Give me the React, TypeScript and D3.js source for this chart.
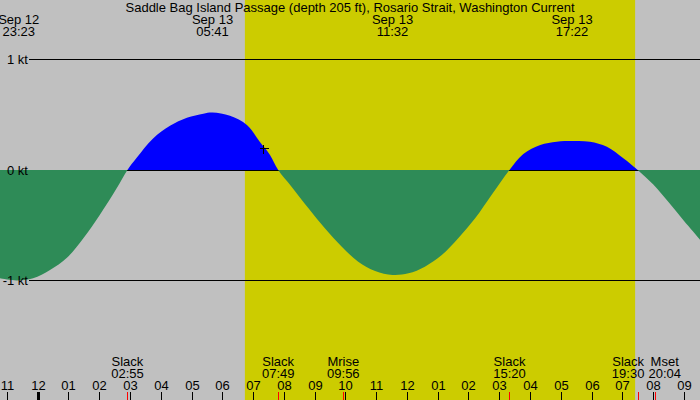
import React, { useEffect, useRef } from 'react';
import * as d3 from 'd3';

// Chart title
const TITLE = 'Saddle Bag Island Passage (depth 205 ft), Rosario Strait, Washington Current';

// Visible time window
const WINDOW_START = '2024-09-12T22:46:30';
const WINDOW_END = '2024-09-13T21:31:30';

// Daylight period (sunrise -> sunset)
const SUNRISE = '2024-09-13T06:44';
const SUNSET = '2024-09-13T19:25';

// Current speed (kt, + flood / - ebb)
const CURVE_TIMES = [
  '2024-09-12T22:46', '2024-09-12T23:19', '2024-09-12T23:51', '2024-09-13T00:24',
  '2024-09-13T00:57', '2024-09-13T01:29', '2024-09-13T02:01', '2024-09-13T02:34',
  '2024-09-13T02:55', '2024-09-13T03:13', '2024-09-13T03:45', '2024-09-13T04:18',
  '2024-09-13T04:51', '2024-09-13T05:23', '2024-09-13T05:41', '2024-09-13T06:15',
  '2024-09-13T06:48', '2024-09-13T07:13', '2024-09-13T07:33', '2024-09-13T07:49',
  '2024-09-13T08:15', '2024-09-13T08:48', '2024-09-13T09:20', '2024-09-13T09:53',
  '2024-09-13T10:25', '2024-09-13T10:58', '2024-09-13T11:32', '2024-09-13T12:03',
  '2024-09-13T12:35', '2024-09-13T13:08', '2024-09-13T13:40', '2024-09-13T14:13',
  '2024-09-13T14:45', '2024-09-13T15:20', '2024-09-13T15:47', '2024-09-13T16:20',
  '2024-09-13T16:52', '2024-09-13T17:22', '2024-09-13T17:57', '2024-09-13T18:30',
  '2024-09-13T19:02', '2024-09-13T19:30', '2024-09-13T20:00', '2024-09-13T20:30',
  '2024-09-13T21:00', '2024-09-13T21:32',
];
const CURVE_VALUES = [
  -0.98, -1.0, -0.98, -0.905,
  -0.794, -0.618, -0.407, -0.166,
  0, 0.11, 0.285, 0.40,
  0.473, 0.51, 0.52, 0.49,
  0.407, 0.256, 0.136, 0,
  -0.151, -0.347, -0.528, -0.694,
  -0.83, -0.914, -0.95, -0.935,
  -0.875, -0.77, -0.618, -0.437,
  -0.226, 0, 0.145, 0.226,
  0.256, 0.262, 0.256, 0.21,
  0.106, 0, -0.13, -0.29,
  -0.46, -0.633,
];

// Max flood / ebb labels along the top
const MAX_TIMES = ['2024-09-12T23:23', '2024-09-13T05:41', '2024-09-13T11:32', '2024-09-13T17:22'];

// Slack and moon events along the bottom
const EVENT_NAMES = ['Slack', 'Slack', 'Mrise', 'Slack', 'Slack', 'Mset'];
const EVENT_TIMES = [
  '2024-09-13T02:55', '2024-09-13T07:49', '2024-09-13T09:56',
  '2024-09-13T15:20', '2024-09-13T19:30', '2024-09-13T20:04',
];

// Y grid levels
const LEVELS = [1, 0, -1];

// "now" marker
const MARK_TIME = '2024-09-13T07:20';
const MARK_VALUE = 0.2;

const W = 700;
const H = 400;
const FONT = '"Liberation Sans", Arial, sans-serif';
const FS = 13;

export default function App() {
  const svgRef = useRef<SVGSVGElement>(null);

  useEffect(() => {
    if (!svgRef.current) return;
    const svg = d3.select(svgRef.current);
    svg.selectAll('*').remove();

    const x = d3.scaleTime()
      .domain([new Date(WINDOW_START), new Date(WINDOW_END)])
      .range([0, W]);

    const y = d3.scaleLinear()
      .domain([-1, 1])
      .range([280.5, 59.5]);

    const px = (v: number) => Math.floor(y(v)) + 0.5;

    // Background: night grey + daylight yellow
    svg.append('rect').attr('width', W).attr('height', H).attr('fill', '#c0c0c0');
    svg.append('rect')
      .attr('x', x(new Date(SUNRISE)))
      .attr('width', x(new Date(SUNSET)) - x(new Date(SUNRISE)))
      .attr('height', H)
      .attr('fill', '#cccc00');

    const pts = CURVE_TIMES.map((t, i) => ({ t: new Date(t), v: CURVE_VALUES[i] }));
    const zeroY = px(0);

    // Zero line first, ebb fill covers it
    svg.append('line')
      .attr('x1', 29).attr('x2', W)
      .attr('y1', zeroY).attr('y2', zeroY)
      .attr('stroke', '#000').attr('shape-rendering', 'crispEdges');

    const defs = svg.append('defs');
    defs.append('clipPath').attr('id', 'above')
      .append('rect').attr('x', 0).attr('y', 0).attr('width', W).attr('height', zeroY - 0.5);
    defs.append('clipPath').attr('id', 'below')
      .append('rect').attr('x', 0).attr('y', zeroY - 0.5).attr('width', W).attr('height', H);

    const area = d3.area<{ t: Date; v: number }>()
      .x(d => x(d.t))
      .y0(y(0))
      .y1(d => y(d.v))
      .curve(d3.curveCatmullRom.alpha(0.5));

    svg.append('path').datum(pts).attr('d', area)
      .attr('fill', '#2e8b57').attr('clip-path', 'url(#below)');
    svg.append('path').datum(pts).attr('d', area)
      .attr('fill', '#0000ff').attr('clip-path', 'url(#above)');

    // +1 / -1 lines and level labels
    LEVELS.forEach(v => {
      if (v !== 0) {
        svg.append('line')
          .attr('x1', 29).attr('x2', W)
          .attr('y1', px(v)).attr('y2', px(v))
          .attr('stroke', '#000').attr('shape-rendering', 'crispEdges');
      }
      svg.append('text')
        .attr('x', 28).attr('y', px(v) + 4.5)
        .attr('text-anchor', 'end')
        .attr('font-family', FONT).attr('font-size', FS)
        .text(`${v} kt`);
    });

    // Title
    svg.append('text')
      .attr('x', W / 2).attr('y', 12)
      .attr('text-anchor', 'middle')
      .attr('font-family', FONT).attr('font-size', FS)
      .text(TITLE);

    // Max labels
    const fmtDay = d3.timeFormat('%b %d');
    const fmtTime = d3.timeFormat('%H:%M');
    MAX_TIMES.forEach(t => {
      const d = new Date(t);
      const g = svg.append('g')
        .attr('font-family', FONT).attr('font-size', FS)
        .attr('text-anchor', 'middle');
      g.append('text').attr('x', x(d)).attr('y', 24).text(fmtDay(d));
      g.append('text').attr('x', x(d)).attr('y', 36).text(fmtTime(d));
    });

    // Hour ticks along the bottom
    const hours = x.ticks(d3.timeHour.every(1)!);
    const fmtHour = d3.timeFormat('%I');
    hours.forEach(h => {
      const hx = Math.round(x(h));
      const midnight = h.getHours() === 0;
      svg.append('rect')
        .attr('x', midnight ? hx - 1 : hx).attr('y', 392)
        .attr('width', midnight ? 3 : 1).attr('height', 8)
        .attr('fill', '#000');
      svg.append('text')
        .attr('x', hx + 0.5).attr('y', 390)
        .attr('text-anchor', 'middle')
        .attr('font-family', FONT).attr('font-size', FS)
        .text(fmtHour(h));
    });

    // Event ticks + labels
    const labels: { g: d3.Selection<SVGGElement, unknown, null, undefined>; cx: number; w: number }[] = [];
    EVENT_TIMES.forEach((t, i) => {
      const d = new Date(t);
      const ex = Math.round(x(d));
      svg.append('rect')
        .attr('x', ex).attr('y', 392).attr('width', 1).attr('height', 8)
        .attr('fill', '#ff0000');
      const g = svg.append('g')
        .attr('font-family', FONT).attr('font-size', FS)
        .attr('text-anchor', 'middle');
      const a = g.append('text').attr('x', 0).attr('y', 366).text(EVENT_NAMES[i]);
      const b = g.append('text').attr('x', 0).attr('y', 378).text(fmtTime(d));
      const w = Math.max(
        (a.node() as SVGTextElement).getComputedTextLength(),
        (b.node() as SVGTextElement).getComputedTextLength(),
      );
      labels.push({ g, cx: x(d), w });
    });
    // push overlapping labels apart
    for (let i = 1; i < labels.length; i++) {
      const p = labels[i - 1];
      const c = labels[i];
      const need = (p.w + c.w) / 2 + 4;
      const gap = c.cx - p.cx;
      if (gap < need) {
        const shift = (need - gap) / 2;
        p.cx -= shift;
        c.cx += shift;
      }
    }
    labels.forEach(l => l.g.attr('transform', `translate(${l.cx},0)`));

    // now marker
    const mx = Math.round(x(new Date(MARK_TIME))) + 0.5;
    const my = Math.round(y(MARK_VALUE)) + 0.5;
    svg.append('path')
      .attr('d', `M${mx - 4},${my}H${mx + 5}M${mx},${my - 4}V${my + 5}`)
      .attr('stroke', '#000').attr('stroke-width', 1)
      .attr('shape-rendering', 'crispEdges');
  }, []);

  return (
    <svg
      ref={svgRef}
      width={W}
      height={H}
      style={{ position: 'absolute', left: 0, top: 0, display: 'block' }}
    />
  );
}
